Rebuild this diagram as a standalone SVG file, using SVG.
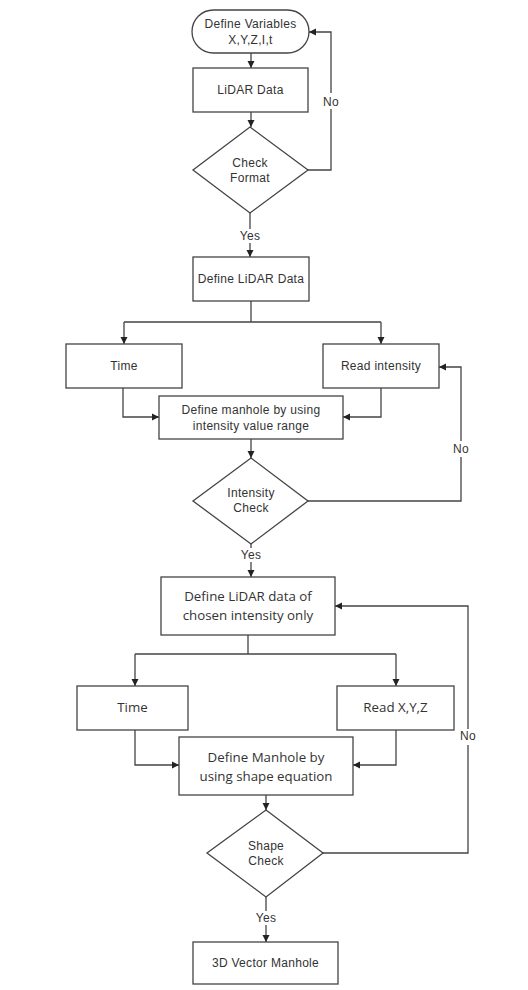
<svg xmlns="http://www.w3.org/2000/svg" width="528" height="990" viewBox="0 0 528 990">
<defs>
<marker id="ah" markerWidth="8" markerHeight="8" refX="7" refY="4" orient="auto" markerUnits="userSpaceOnUse">
<path d="M0,0.5 L7,4 L0,7.5 Z" fill="#222"/>
</marker>
<style>
.box{fill:#fff;stroke:#444;stroke-width:1.3}
.ln{fill:none;stroke:#444;stroke-width:1.3}
.ar{fill:none;stroke:#444;stroke-width:1.3;marker-end:url(#ah)}
.t{font-family:"Liberation Sans",Arial,sans-serif;font-size:12px;letter-spacing:0.3px;fill:#333;text-anchor:middle}
.t2{font-family:"Open Sans","Liberation Sans",sans-serif;font-size:13.3px;fill:#333;text-anchor:middle}
.lb{fill:#fff}
</style>
</defs>
<rect width="528" height="990" fill="#fff"/>
<g id="connectors">
<path class="ar" d="M251,53 V68"/>
<path class="ar" d="M251,112 V127"/>
<path class="ar" d="M308,170 H331 V32 H309"/>
<path class="ar" d="M250,213 V257"/>
<path class="ln" d="M251,301 V322 M124,322 H381"/>
<path class="ar" d="M124,322 V344"/>
<path class="ar" d="M381,322 V344"/>
<path class="ar" d="M123,388 V417 H159"/>
<path class="ar" d="M381,388 V417 H343"/>
<path class="ar" d="M251,439 V458"/>
<path class="ar" d="M308,501 H461 V367 H439"/>
<path class="ar" d="M251,544 V577"/>
<path class="ln" d="M248,635 V654 M135,654 H396"/>
<path class="ar" d="M135,654 V686"/>
<path class="ar" d="M396,654 V686"/>
<path class="ar" d="M135,730 V765 H179"/>
<path class="ar" d="M396,730 V765 H353"/>
<path class="ar" d="M266,795 V810"/>
<path class="ar" d="M323,853 H468 V606 H335"/>
<path class="ar" d="M266,897 V942"/>
<rect class="lb" x="321" y="93" width="20" height="16"/>
<text class="t" x="331" y="106">No</text>
<rect class="lb" x="238" y="229" width="24" height="14"/>
<text class="t" x="250" y="240">Yes</text>
<rect class="lb" x="451" y="441" width="20" height="16"/>
<text class="t" x="461" y="453">No</text>
<rect class="lb" x="239" y="548" width="24" height="14"/>
<text class="t" x="251" y="559">Yes</text>
<rect class="lb" x="458" y="729" width="20" height="16"/>
<text class="t" x="468" y="740">No</text>
<rect class="lb" x="254" y="911" width="24" height="14"/>
<text class="t" x="266" y="922">Yes</text>
</g>
<g id="start">
<rect class="box" x="192" y="10" width="117" height="43" rx="21.5"/>
<text class="t" x="250.5" y="28">Define Variables</text>
<text class="t" x="250.5" y="44">X,Y,Z,I,t</text>
</g>
<g id="lidar-data">
<rect class="box" x="193" y="68" width="115" height="44"/>
<text class="t" x="250.5" y="94">LiDAR Data</text>
</g>
<g id="check-format">
<polygon class="box" points="250,127 308,170 250,213 193,170"/>
<text class="t" x="250" y="167">Check</text>
<text class="t" x="250" y="182">Format</text>
</g>
<g id="define-lidar-data">
<rect class="box" x="193" y="257" width="116" height="44"/>
<text class="t" x="251" y="283">Define LiDAR Data</text>
</g>
<g id="time-1">
<rect class="box" x="66" y="344" width="116" height="44"/>
<text class="t" x="124" y="370">Time</text>
</g>
<g id="read-intensity">
<rect class="box" x="323" y="344" width="116" height="44"/>
<text class="t" x="381" y="370">Read intensity</text>
</g>
<g id="define-manhole-intensity">
<rect class="box" x="159" y="396" width="184" height="43"/>
<text class="t" x="251" y="414">Define manhole by using</text>
<text class="t" x="251" y="430">intensity value range</text>
</g>
<g id="intensity-check">
<polygon class="box" points="251,458 308,501 251,544 193,501"/>
<text class="t" x="251" y="497">Intensity</text>
<text class="t" x="251" y="512">Check</text>
</g>
<g id="define-lidar-chosen">
<rect class="box" x="161" y="577" width="174" height="58"/>
<text class="t2" x="248" y="601">Define LiDAR data of</text>
<text class="t2" x="248" y="620">chosen intensity only</text>
</g>
<g id="time-2">
<rect class="box" x="77" y="686" width="111" height="44"/>
<text class="t2" x="132.5" y="712">Time</text>
</g>
<g id="read-xyz">
<rect class="box" x="337" y="686" width="117" height="44"/>
<text class="t2" x="395.5" y="712">Read X,Y,Z</text>
</g>
<g id="define-manhole-shape">
<rect class="box" x="179" y="737" width="174" height="58"/>
<text class="t2" x="266" y="762">Define Manhole by</text>
<text class="t2" x="266" y="781">using shape equation</text>
</g>
<g id="shape-check">
<polygon class="box" points="266,810 323,853 266,897 207,853"/>
<text class="t" x="266" y="850">Shape</text>
<text class="t" x="266" y="865">Check</text>
</g>
<g id="vector-manhole">
<rect class="box" x="193" y="942" width="145" height="42"/>
<text class="t" x="265.5" y="967">3D Vector Manhole</text>
</g>
</svg>
